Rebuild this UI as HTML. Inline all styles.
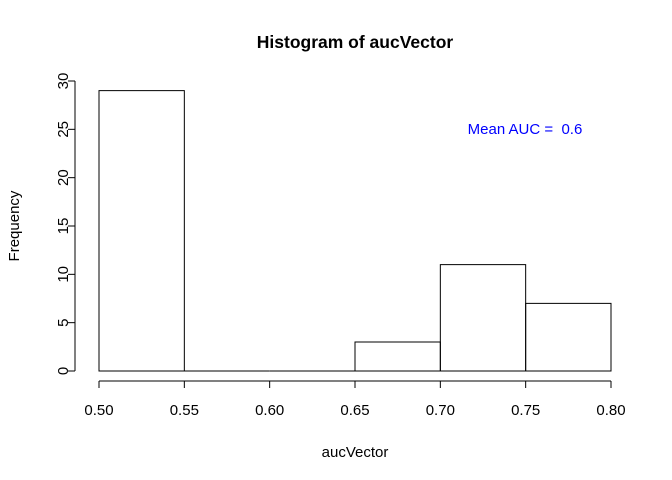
<!DOCTYPE html>
<html><head><meta charset="utf-8"><style>
html,body{margin:0;padding:0;background:#fff;}
svg{display:block;font-family:"Liberation Sans",Arial,sans-serif;}
</style></head><body>
<svg id="chart" width="672" height="480" viewBox="0 0 672 480">
<text x="355" y="48" text-anchor="middle" font-weight="bold" font-size="17.5">Histogram of aucVector</text>
<text x="355" y="457" text-anchor="middle" font-size="15">aucVector</text>
<text transform="translate(19,226) rotate(-90)" text-anchor="middle" font-size="15">Frequency</text>
<text x="525" y="134" text-anchor="middle" font-size="15" fill="#0000ff" style="white-space:pre" xml:space="preserve">Mean AUC =  0.6</text>
<g id="bars"></g>
<g id="xaxis"></g>
<g id="yaxis"></g>
</svg>
<script>
const binEdges = [0.50, 0.55, 0.60, 0.65, 0.70, 0.75, 0.80];
const counts = [29, 0, 0, 3, 11, 7];
const xTicks = [0.50, 0.55, 0.60, 0.65, 0.70, 0.75, 0.80];
const xTickLabels = ["0.50","0.55","0.60","0.65","0.70","0.75","0.80"];
const yTicks = [0, 5, 10, 15, 20, 25, 30];

const NS = "http://www.w3.org/2000/svg";
function xs(v){ return 99 + (v - 0.5) / 0.3 * 512; }
function ys(v){ return 371 - v / 30 * 290; }
function mk(tag, attrs, parent){
  const e = document.createElementNS(NS, tag);
  for (const k in attrs) e.setAttribute(k, attrs[k]);
  parent.appendChild(e); return e;
}
const bars = document.getElementById('bars');
counts.forEach((c, i) => {
  const x0 = xs(binEdges[i]), x1 = xs(binEdges[i+1]);
  const y0 = ys(0), y1 = ys(c);
  const d = 'M' + x0 + ',' + y0 + 'L' + x0 + ',' + y1 + 'L' + x1 + ',' + y1 + 'L' + x1 + ',' + y0 + 'Z';
  const r = mk('path', {d: d, fill: 'none', stroke: '#000', 'stroke-width': 1}, bars);
  
  
});
const xa = document.getElementById('xaxis');
mk('line', {x1: xs(xTicks[0]), x2: xs(xTicks[xTicks.length-1]), y1: 381, y2: 381, stroke: '#000'}, xa);
xTicks.forEach((t, i) => {
  mk('line', {x1: xs(t), x2: xs(t), y1: 381, y2: 388, stroke: '#000'}, xa);
  const tx = mk('text', {x: xs(t), y: 415, 'text-anchor': 'middle', 'font-size': 15}, xa);
  tx.textContent = xTickLabels[i];
  
  
});
const ya = document.getElementById('yaxis');
mk('line', {x1: 75, x2: 75, y1: ys(yTicks[0]), y2: ys(yTicks[yTicks.length-1]), stroke: '#000'}, ya);
yTicks.forEach(t => {
  mk('line', {x1: 68, x2: 75, y1: ys(t), y2: ys(t), stroke: '#000'}, ya);
  const tx = mk('text', {transform: 'translate(68,' + ys(t) + ') rotate(-90)', 'text-anchor': 'middle', 'font-size': 15}, ya);
  tx.textContent = String(t);
  
  
});
</script>
</body></html>
